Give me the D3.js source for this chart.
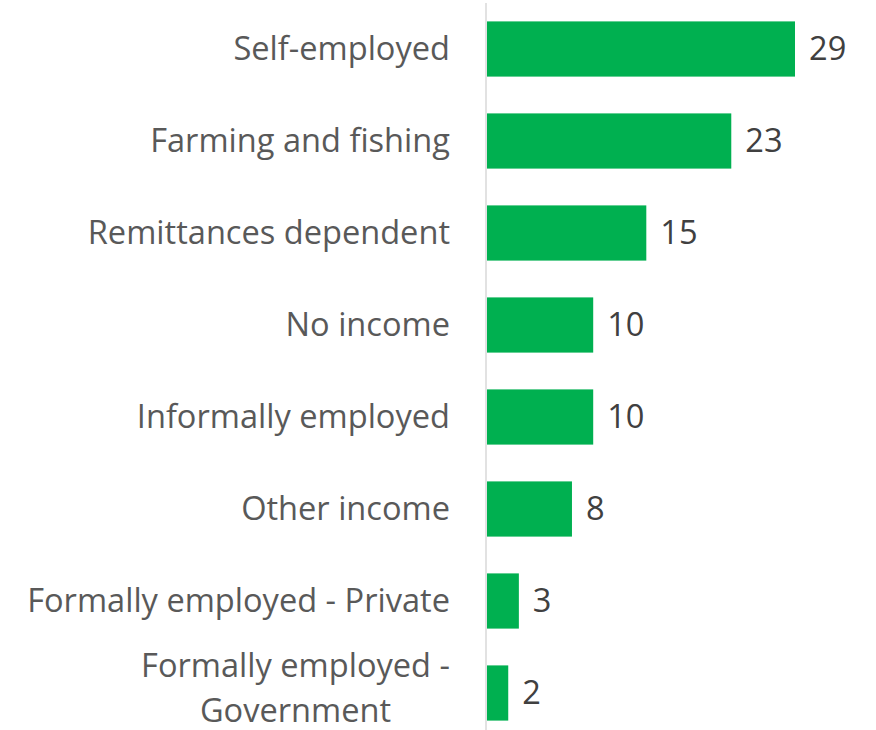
<!DOCTYPE html>
<html>
<head>
<meta charset="utf-8">
<script src="https://cdn.jsdelivr.net/npm/d3@7"></script>
<style>
  html, body { margin: 0; padding: 0; background: #ffffff; }
  svg { display: block; }
</style>
</head>
<body>
<svg id="chart" width="876" height="730"></svg>
<script>
// Main income source (%)
const categories = [
  "Self-employed",
  "Farming and fishing",
  "Remittances dependent",
  "No income",
  "Informally employed",
  "Other income",
  "Formally employed - Private",
  "Formally employed - Government"
];
const values = [29, 23, 15, 10, 10, 8, 3, 2];
// labels broken across lines where the category name wraps
const labelLines = [
  ["Self-employed"],
  ["Farming and fishing"],
  ["Remittances dependent"],
  ["No income"],
  ["Informally employed"],
  ["Other income"],
  ["Formally employed - Private"],
  ["Formally employed -", "Government"]
];

const svg = d3.select("#chart");
const fontFamily = "'Open Sans', 'Noto Sans', sans-serif";

const axisX = 487;
const labelRight = 450;

const x = d3.scaleLinear().domain([0, 29]).range([axisX, 795]);
const y = d3.scaleBand().domain(categories).range([3, 739]).paddingInner(0.4).paddingOuter(0.2);

// Size the text so the longest single-line label spans the available width
const probe = svg.append("text").attr("font-family", fontFamily).attr("font-size", 100)
  .text("Formally employed - Private");
const w100 = probe.node().getComputedTextLength();
probe.remove();
const fs = 100 * 423 / w100;

// Bars
svg.append("g").selectAll("rect")
  .data(values)
  .join("rect")
  .attr("x", x(0))
  .attr("y", (d, i) => y(categories[i]))
  .attr("width", d => x(d) - x(0))
  .attr("height", y.bandwidth())
  .attr("fill", "#00b050");

// Vertical category axis line
svg.append("line")
  .attr("x1", axisX - 1).attr("x2", axisX - 1)
  .attr("y1", 3).attr("y2", 730)
  .attr("stroke", "#d9d9d9").attr("stroke-width", 1.5);

// Category labels
const lineH = 45;
const labels = svg.append("g")
  .attr("font-family", fontFamily)
  .attr("font-size", fs)
  .attr("fill", "#595959");

labelLines.forEach((lines, i) => {
  const cy = y(categories[i]) + y.bandwidth() / 2;
  const t = labels.append("text");
  if (lines.length === 1) {
    t.attr("x", labelRight).attr("y", cy).attr("dy", "0.35em")
      .attr("text-anchor", "end").text(lines[0]);
  } else {
    t.attr("text-anchor", "middle");
    const spans = lines.map((s, k) => t.append("tspan")
      .attr("y", cy - 16 + k * lineH)
      .text(s));
    const maxW = d3.max(spans, s => s.node().getComputedTextLength());
    spans.forEach(s => s.attr("x", labelRight - maxW / 2));
  }
});

// Value labels
svg.append("g")
  .attr("font-family", fontFamily)
  .attr("font-size", fs)
  .attr("fill", "#404040")
  .selectAll("text")
  .data(values)
  .join("text")
  .attr("x", d => x(d) + 14)
  .attr("y", (d, i) => y(categories[i]) + y.bandwidth() / 2)
  .attr("dy", "0.35em")
  .text(d => d);
</script>
</body>
</html>
